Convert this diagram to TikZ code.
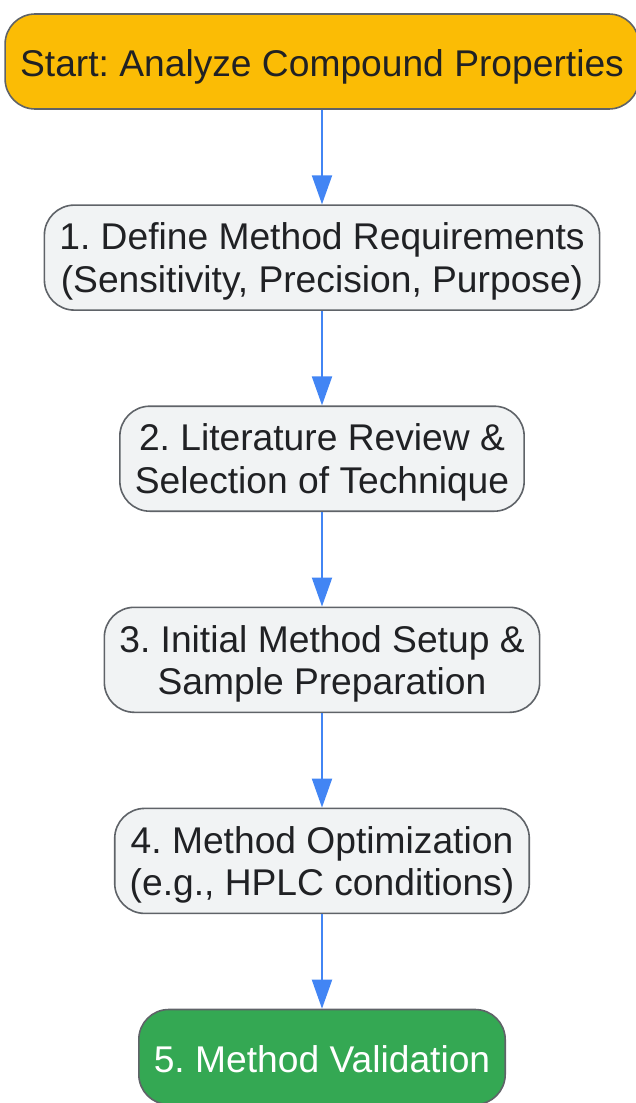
\documentclass[tikz,border=0pt]{standalone}
\usepackage{fontspec}
\setmainfont{Liberation Sans}
\usepackage{xcolor}
\usetikzlibrary{positioning,arrows.meta}
\definecolor{startfill}{HTML}{FBBC05}
\definecolor{stepfill}{HTML}{F1F3F4}
\definecolor{endfill}{HTML}{34A853}
\definecolor{edgegray}{HTML}{5F6368}
\definecolor{textdark}{HTML}{202124}
\definecolor{arrowblue}{HTML}{4285F4}
\frenchspacing
\begin{document}
\begin{tikzpicture}[x=1pt,y=-1pt,node distance=94.5pt,
stepbox/.style={rectangle,rounded corners=30pt,draw=edgegray,fill=stepfill,line width=1.6pt,
text=textdark,align=center,inner xsep=15pt,minimum height=105pt,
font=\fontsize{37.2}{42.5}\selectfont,text depth=-10pt},
startbox/.style={stepbox,fill=startfill,minimum height=95pt,text height=37.9pt,text depth=7.9pt},
endbox/.style={startbox,fill=endfill,text=white},
flow/.style={-{Triangle[length=29pt,width=20pt]},draw=arrowblue,line width=2pt}]
    \useasboundingbox (0,0) rectangle (635,1103);
    \node[startbox] (Start) at (322,61.5) {Start: Analyze Compound Properties};
    \node[stepbox] (Step 1) [below=of Start] {1. Define Method Requirements\\(Sensitivity, Precision, Purpose)};
    \node[stepbox] (Step 2) [below=of Step 1] {2. Literature Review \&\\Selection of Technique};
    \node[stepbox] (Step 3) [below=of Step 2] {3. Initial Method Setup \&\\Sample Preparation};
    \node[stepbox] (Step 4) [below=of Step 3] {4. Method Optimization\\(e.g., HPLC conditions)};
    \node[endbox] (Step 5) [below=of Step 4] {5. Method Validation};
    \draw [flow] (Start) to (Step 1);
    \draw [flow] (Step 1) to (Step 2);
    \draw [flow] (Step 2) to (Step 3);
    \draw [flow] (Step 3) to (Step 4);
    \draw [flow] (Step 4) to (Step 5);
\end{tikzpicture}
\end{document}
